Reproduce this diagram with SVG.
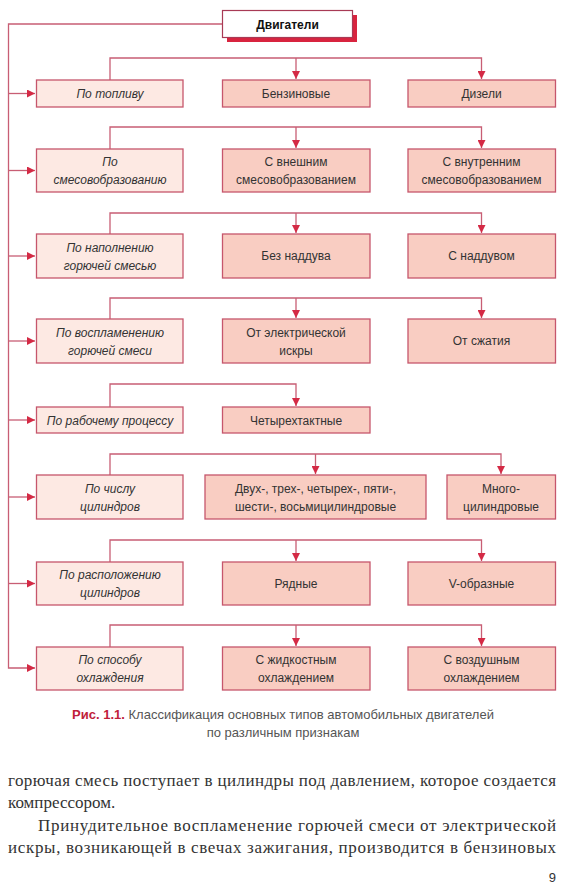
<svg xmlns="http://www.w3.org/2000/svg" width="570" height="888" viewBox="0 0 570 888">
<style>
.bg{fill:#ffffff}
.cat{fill:#fde9e3;stroke:#c6566c;stroke-width:1.3}
.val{fill:#f9cdc2;stroke:#c6566c;stroke-width:1.3}
.line{fill:none;stroke:#c85e74;stroke-width:1.3}
.ti{font-family:"Liberation Sans",Arial,sans-serif;font-size:12px;font-style:italic;fill:#333;text-anchor:middle}
.tv{font-family:"Liberation Sans",Arial,sans-serif;font-size:12px;fill:#333;text-anchor:middle}
.cap{font-family:"Liberation Sans",Arial,sans-serif;font-size:13px;fill:#555;text-anchor:middle}
.body{font-family:"Liberation Serif","Times New Roman",serif;font-size:17px;fill:#333}
</style>
<defs>
<marker id="ah" markerUnits="userSpaceOnUse" markerWidth="9" markerHeight="8" refX="8" refY="4" orient="auto">
<path d="M0,0 L8,4 L0,8 Z" fill="#d42a45"/>
</marker>
</defs>
<rect class="bg" x="0" y="0" width="570" height="888"/>

<g id="connectors">
<path class="line" d="M222,24 H8.5 V668 H35" marker-end="url(#ah)"/>
<path class="line" d="M8.5,93.5 H35" marker-end="url(#ah)"/>
<path class="line" d="M8.5,170.5 H35" marker-end="url(#ah)"/>
<path class="line" d="M8.5,256 H35" marker-end="url(#ah)"/>
<path class="line" d="M8.5,341 H35" marker-end="url(#ah)"/>
<path class="line" d="M8.5,420 H35" marker-end="url(#ah)"/>
<path class="line" d="M8.5,497 H35" marker-end="url(#ah)"/>
<path class="line" d="M8.5,583.5 H35" marker-end="url(#ah)"/>

<path class="line" d="M110,80 V58 H481.5 V79" marker-end="url(#ah)"/>
<path class="line" d="M296,58 V79" marker-end="url(#ah)"/>
<path class="line" d="M110,149 V127 H481.5 V148" marker-end="url(#ah)"/>
<path class="line" d="M296,127 V148" marker-end="url(#ah)"/>
<path class="line" d="M110,234 V213 H481.5 V233" marker-end="url(#ah)"/>
<path class="line" d="M296,213 V233" marker-end="url(#ah)"/>
<path class="line" d="M110,319 V298 H481.5 V318" marker-end="url(#ah)"/>
<path class="line" d="M296,298 V318" marker-end="url(#ah)"/>
<path class="line" d="M110,407 V384 H296 V406" marker-end="url(#ah)"/>
<path class="line" d="M110,475 V454 H501 V474" marker-end="url(#ah)"/>
<path class="line" d="M315.5,454 V474" marker-end="url(#ah)"/>
<path class="line" d="M110,562 V540 H481.5 V561" marker-end="url(#ah)"/>
<path class="line" d="M296,540 V561" marker-end="url(#ah)"/>
<path class="line" d="M110,647 V625 H481.5 V646" marker-end="url(#ah)"/>
<path class="line" d="M296,625 V646" marker-end="url(#ah)"/>
</g>

<g id="root">
<rect x="227" y="15" width="130" height="27" fill="#d8243f"/>
<rect x="222.5" y="10.5" width="130" height="27" fill="#ffffff" stroke="#a83a55" stroke-width="1.2"/>
<text x="287.5" y="28.5" class="tv" style="font-weight:bold;fill:#111">Двигатели</text>
</g>

<g id="row1">
<g id="n-fuel"><rect class="cat" x="36.5" y="80" width="146.5" height="27"/><text class="ti" x="110" y="98">По топливу</text></g>
<g id="n-petrol"><rect class="val" x="222.5" y="80" width="147.5" height="27"/><text class="tv" x="296" y="98">Бензиновые</text></g>
<g id="n-diesel"><rect class="val" x="408" y="80" width="147.5" height="27"/><text class="tv" x="481.5" y="98">Дизели</text></g>
</g>

<g id="row2">
<g id="n-mix"><rect class="cat" x="36.5" y="149" width="146.5" height="43"/><text class="ti" x="110" y="166">По</text><text class="ti" x="110" y="184">смесовобразованию</text></g>
<g id="n-ext"><rect class="val" x="222.5" y="149" width="147.5" height="43"/><text class="tv" x="296" y="166">С внешним</text><text class="tv" x="296" y="184">смесовобразованием</text></g>
<g id="n-int"><rect class="val" x="408" y="149" width="147.5" height="43"/><text class="tv" x="481.5" y="166">С внутренним</text><text class="tv" x="481.5" y="184">смесовобразованием</text></g>
</g>

<g id="row3">
<g id="n-fill"><rect class="cat" x="36.5" y="234" width="146.5" height="44"/><text class="ti" x="110" y="251.5">По наполнению</text><text class="ti" x="110" y="269.5">горючей смесью</text></g>
<g id="n-noboost"><rect class="val" x="222.5" y="234" width="147.5" height="44"/><text class="tv" x="296" y="260">Без наддува</text></g>
<g id="n-boost"><rect class="val" x="408" y="234" width="147.5" height="44"/><text class="tv" x="481.5" y="260">С наддувом</text></g>
</g>

<g id="row4">
<g id="n-ign"><rect class="cat" x="36.5" y="319" width="146.5" height="44"/><text class="ti" x="110" y="336.5">По воспламенению</text><text class="ti" x="110" y="354.5">горючей смеси</text></g>
<g id="n-spark"><rect class="val" x="222.5" y="319" width="147.5" height="44"/><text class="tv" x="296" y="336.5">От электрической</text><text class="tv" x="296" y="354.5">искры</text></g>
<g id="n-comp"><rect class="val" x="408" y="319" width="147.5" height="44"/><text class="tv" x="481.5" y="345">От сжатия</text></g>
</g>

<g id="row5">
<g id="n-cycle"><rect class="cat" x="36.5" y="407" width="146.5" height="26"/><text class="ti" x="110" y="424.5">По рабочему процессу</text></g>
<g id="n-four"><rect class="val" x="222.5" y="407" width="147.5" height="26"/><text class="tv" x="296" y="424.5">Четырехтактные</text></g>
</g>

<g id="row6">
<g id="n-num"><rect class="cat" x="36.5" y="475" width="146.5" height="44"/><text class="ti" x="110" y="492.5">По числу</text><text class="ti" x="110" y="510.5">цилиндров</text></g>
<g id="n-few"><rect class="val" x="205" y="475" width="221" height="44"/><text class="tv" x="315.5" y="492.5">Двух-, трех-, четырех-, пяти-,</text><text class="tv" x="315.5" y="510.5">шести-, восьмицилиндровые</text></g>
<g id="n-many"><rect class="val" x="447" y="475" width="108.5" height="44"/><text class="tv" x="501" y="492.5">Много-</text><text class="tv" x="501" y="510.5">цилиндровые</text></g>
</g>

<g id="row7">
<g id="n-layout"><rect class="cat" x="36.5" y="562" width="146.5" height="43"/><text class="ti" x="110" y="579">По расположению</text><text class="ti" x="110" y="597">цилиндров</text></g>
<g id="n-inline"><rect class="val" x="222.5" y="562" width="147.5" height="43"/><text class="tv" x="296" y="588">Рядные</text></g>
<g id="n-v"><rect class="val" x="408" y="562" width="147.5" height="43"/><text class="tv" x="481.5" y="588">V-образные</text></g>
</g>

<g id="row8">
<g id="n-cool"><rect class="cat" x="36.5" y="647" width="146.5" height="43"/><text class="ti" x="110" y="664">По способу</text><text class="ti" x="110" y="682">охлаждения</text></g>
<g id="n-liquid"><rect class="val" x="222.5" y="647" width="147.5" height="43"/><text class="tv" x="296" y="664">С жидкостным</text><text class="tv" x="296" y="682">охлаждением</text></g>
<g id="n-air"><rect class="val" x="408" y="647" width="147.5" height="43"/><text class="tv" x="481.5" y="664">С воздушным</text><text class="tv" x="481.5" y="682">охлаждением</text></g>
</g>

<g id="caption">
<text class="cap" x="283" y="719"><tspan style="font-weight:bold;fill:#c0203a">Рис. 1.1.</tspan> Классификация основных типов автомобильных двигателей</text>
<text class="cap" x="283" y="737">по различным признакам</text>
</g>

<g id="bodytext">
<text class="body" x="8" y="786" textLength="548" lengthAdjust="spacing">горючая смесь поступает в цилиндры под давлением, которое создается</text>
<text class="body" x="8" y="808">компрессором.</text>
<text class="body" x="38" y="831" textLength="518" lengthAdjust="spacing">Принудительное воспламенение горючей смеси от электрической</text>
<text class="body" x="8" y="853" textLength="548" lengthAdjust="spacing">искры, возникающей в свечах зажигания, производится в бензиновых</text>
<text x="556" y="882" style="font-family:'Liberation Sans',Arial,sans-serif;font-size:13px;fill:#333;text-anchor:end">9</text>
</g>
</svg>
